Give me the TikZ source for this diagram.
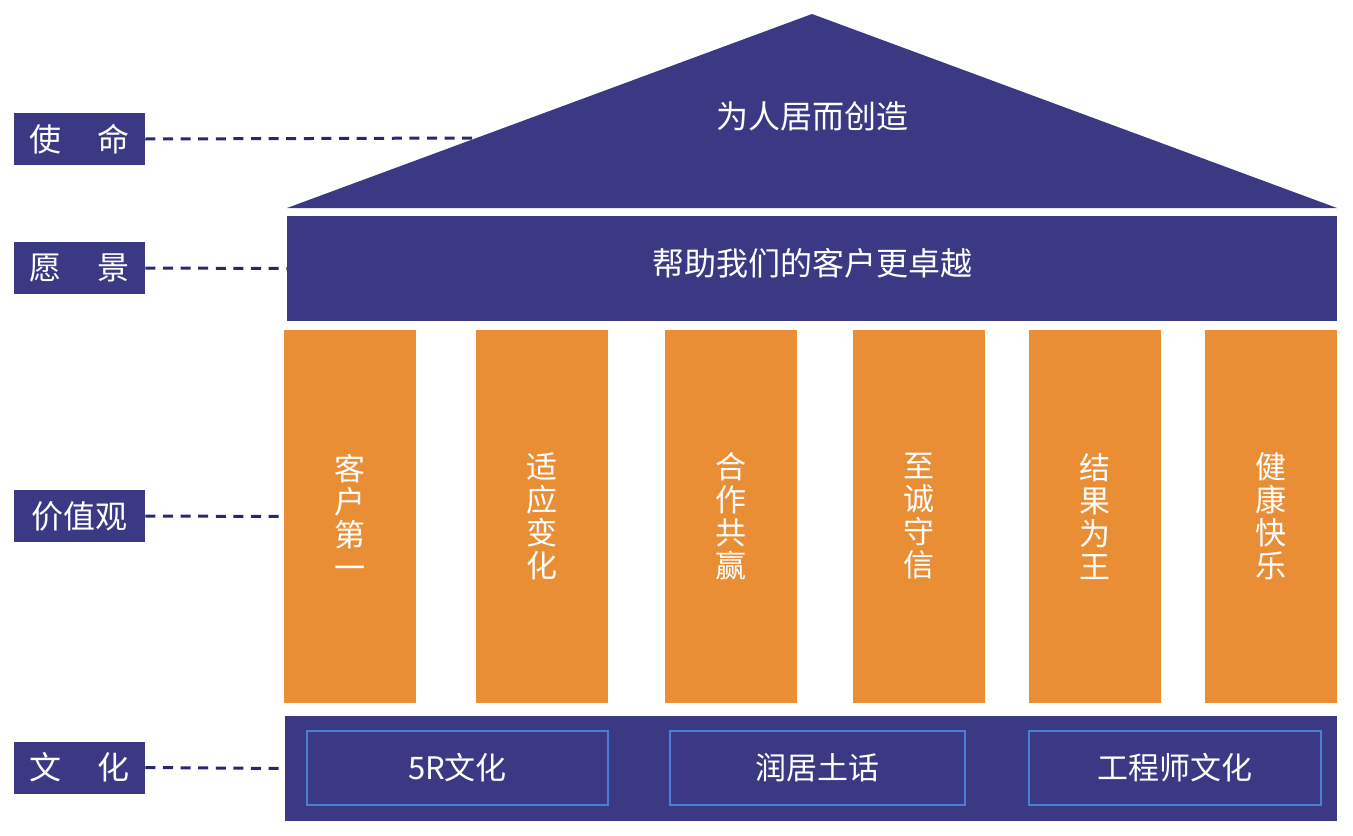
\documentclass[tikz,border=0pt]{standalone}
\usepackage{fontspec}
\setmainfont{Noto Sans CJK SC}
\definecolor{navy}{RGB}{60,57,132}
\definecolor{leaderblue}{RGB}{42,38,112}
\definecolor{pillarorange}{RGB}{234,142,54}
\definecolor{frameblue}{RGB}{74,127,214}
\tikzset{
  tag/.style={fill=navy, text=white, minimum width=65.5pt, minimum height=26pt, inner sep=0pt, font=\fontsize{16}{16}\selectfont},
  pillar/.style={fill=pillarorange, text=white, minimum width=66pt, minimum height=186.5pt, inner sep=0pt, align=center, font=\fontsize{15.5}{16.5}\selectfont},
  slab/.style={fill=navy, text=white, minimum width=525pt, minimum height=52.5pt, inner sep=0pt, font=\fontsize{16}{16}\selectfont},
  framed/.style={draw=frameblue, line width=1pt, text=white, minimum height=37pt, inner sep=0pt, font=\fontsize{15.5}{15.5}\selectfont},
  leader/.style={draw=leaderblue, line width=1.5pt, dash pattern=on 5pt off 3.8pt}
}
\begin{document}
\begin{tikzpicture}[x=0.5pt, y=-0.5pt]
\useasboundingbox (0,0) rectangle (1353,835);
% roof
\fill[navy] (287,208) -- (812,14) -- (1337,208) -- cycle;
\node[text=white, font=\fontsize{16}{16}\selectfont] (mission) at (812,116) {为人居而创造};
\coordinate (roofedge) at (476,138);
% vision bar and base
\node[slab] (vision) at (812,268.5) {};
\node[text=white, font=\fontsize{16}{16}\selectfont] (visiontext) at (812,263) {帮助我们的客户更卓越};
\node[slab, minimum width=526pt] (culture) at (811,768.5) {};
\node[framed, minimum width=150.5pt] (fiveR) at (457.5,768) {5R文化};
\node[framed, minimum width=147.5pt] (runju) at (817.5,768) {润居土话};
\node[framed, minimum width=146pt] (engineer) at (1175,768) {工程师文化};
% pillars
\foreach \x/\name/\txt in {350/p1/客\\户\\第\\一, 542/p2/适\\应\\变\\化, 730.5/p3/合\\作\\共\\赢,
  918.5/p4/至\\诚\\守\\信, 1094.5/p5/结\\果\\为\\王, 1271/p6/健\\康\\快\\乐}{
  \node[pillar] (\name) at (\x,516.5) {\txt};
}
% left tags
\node[tag] (tagmission) at (79.5,139) {使\hspace{1.1em}命};
\node[tag] (tagvision) at (79.5,268) {愿\hspace{1.1em}景};
\node[tag] (tagvalues) at (79.5,516) {价值观};
\node[tag] (tagculture) at (79.5,767.5) {文\hspace{1.1em}化};
\draw[leader] (tagmission.east) -- (roofedge);
\draw[leader] (tagvision.east) -- (vision.west);
\draw[leader] (tagvalues.east) -- (p1.west);
\draw[leader] (tagculture.east) -- (culture.west);
\end{tikzpicture}
\end{document}
